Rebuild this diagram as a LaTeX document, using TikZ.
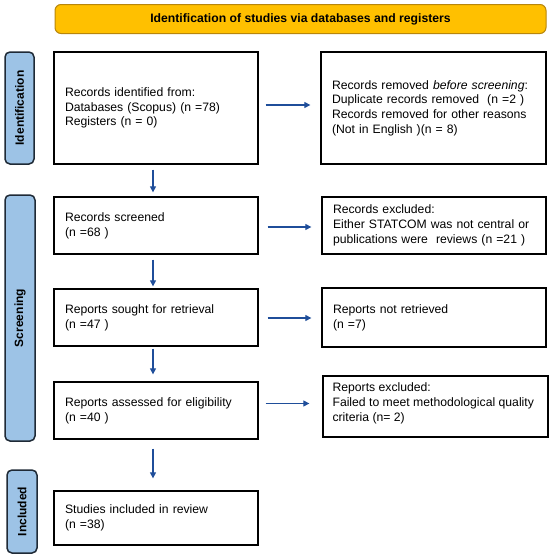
\documentclass[tikz,border=0pt]{standalone}
\usepackage{fontspec}
\setmainfont{Liberation Sans}
\usetikzlibrary{arrows.meta}
\definecolor{gold}{HTML}{FFC000}
\definecolor{goldedge}{HTML}{B8860B}
\definecolor{sideblue}{HTML}{9DC3E6}
\definecolor{sideedge}{HTML}{1F2A36}
\definecolor{arrblue}{HTML}{1F4E9A}
\tikzset{
  box/.style={draw=black, line width=1.3pt, fill=white, inner xsep=11pt, align=left,
    font=\fontsize{12.2}{14.7}\selectfont},
  boxtext/.style={inner sep=0pt, align=left, font=\fontsize{12.2}{15}\selectfont},
  side/.style={draw=sideedge, line width=1.5pt, fill=sideblue, rounded corners=5pt,
    rotate=90, font=\bfseries\fontsize{12}{14}\selectfont, inner sep=0pt},
  banner/.style={draw=goldedge, line width=1pt, fill=gold, rounded corners=6pt,
    font=\bfseries\fontsize{12.2}{14}\selectfont, inner sep=0pt},
  arr/.style={draw=arrblue, line width=1.2pt, -{Triangle[length=6pt,width=6pt]}}
}
\begin{document}
\begin{tikzpicture}[x=1pt,y=-1pt]
\useasboundingbox (0,0) rectangle (550,558);
% banner
\node[banner, minimum width=491pt, minimum height=29pt] (ban) at (300.5,19) {Identification of studies via databases and registers};
% side labels
\node[side, minimum width=112pt, minimum height=29pt] (sid) at (19.5,108) {Identification};
\node[side, minimum width=246pt, minimum height=30pt] (sscr) at (20,318) {Screening};
\node[side, minimum width=83pt, minimum height=30pt] (sinc) at (22,511.5) {Included};
% left boxes
\node[box, minimum width=204pt, minimum height=112pt, text width=182pt] (b1) at (156,108)
  {Records identified from:\\Databases (Scopus) (n =78)\\Registers (n = 0)};
\node[box, minimum width=204pt, minimum height=57pt, text width=182pt] (b2) at (156,225.5)
  {Records screened\\(n =68 )};
\node[box, minimum width=204pt, minimum height=57pt, text width=182pt] (b3) at (156,317.5)
  {Reports sought for retrieval\\(n =47 )};
\node[box, minimum width=204pt, minimum height=57pt, text width=182pt] (b4) at (156,410.5)
  {Reports assessed for eligibility\\(n =40 )};
\node[box, minimum width=204pt, minimum height=54pt, text width=182pt] (b5) at (156,518)
  {Studies included in review\\(n =38)};
% right boxes
\node[box, minimum width=225pt, minimum height=112pt, text width=203pt] (r1) at (433.5,108)
  {Records removed \textit{before screening}:\\Duplicate records removed~ (n =2 )\\Records removed for other reasons\\(Not in English )(n = 8)};
\node[box, minimum width=224pt, minimum height=57pt, text width=202pt] (r2) at (434,225.5)
  {Records excluded:\\Either STATCOM was not central or\\publications were~ reviews (n =21 )};
\node[box, minimum width=224pt, minimum height=59pt, text width=202pt] (r3) at (434,317.5)
  {Reports not retrieved\\(n =7)};
\node[box, minimum width=225pt, minimum height=61pt, inner sep=0pt] (r4) at (435.5,406.5) {};
\node[boxtext, anchor=north west] (r4t) at ([xshift=10pt,yshift=-7pt]r4.north west)
  {Reports excluded:\\Failed to meet methodological quality\\criteria (n= 2)};
% horizontal arrows
\draw[arr, shorten <=7pt, shorten >=10pt] ([yshift=3pt]b1.east) -- ([yshift=3pt]r1.west);
\draw[arr, shorten <=9pt, shorten >=10pt] ([yshift=-1.5pt]b2.east) -- ([yshift=-1.5pt]r2.west);
\draw[arr, shorten <=9pt, shorten >=10pt] ([yshift=-0.5pt]b3.east) -- ([yshift=-0.5pt]r3.west);
\draw[arr, shorten <=7pt, shorten >=13pt] ([yshift=7pt]b4.east) -- ([yshift=3pt]r4.west);
% vertical arrows
\draw[arr, shorten <=5pt, shorten >=4pt] ([xshift=-3pt]b1.south) -- ([xshift=-3pt]b2.north);
\draw[arr, shorten <=5pt, shorten >=2pt] ([xshift=-3pt]b2.south) -- ([xshift=-3pt]b3.north);
\draw[arr, shorten <=2pt, shorten >=7pt] ([xshift=-3pt]b3.south) -- ([xshift=-3pt]b4.north);
\draw[arr, shorten <=9pt, shorten >=12pt] ([xshift=-3pt]b4.south) -- ([xshift=-3pt]b5.north);
\end{tikzpicture}
\end{document}
